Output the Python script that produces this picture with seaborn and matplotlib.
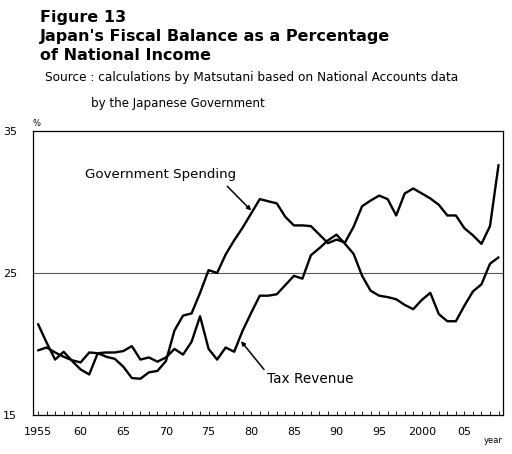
import numpy as np
import pandas as pd
import seaborn as sns
import matplotlib.pyplot as plt
from matplotlib.ticker import MultipleLocator

# values (% of national income)
years = list(range(1955, 2010))
spending = [21.4, 20.1, 18.9, 19.45, 18.8, 18.2, 17.85, 19.35, 19.1, 18.95,
            18.4, 17.6, 17.55, 18.0, 18.1, 18.8, 20.95, 22.0, 22.15, 23.6,
            25.2, 25.0, 26.3, 27.3, 28.2, 29.2, 30.2, 30.05, 29.9, 28.95,
            28.35, 28.35, 28.3, 27.7, 27.1, 27.35, 27.15, 28.25, 29.7, 30.1,
            30.45, 30.2, 29.05, 30.6, 30.95, 30.6, 30.25, 29.8, 29.05, 29.05,
            28.15, 27.65, 27.05, 28.3, 32.6]
tax = [19.55, 19.75, 19.4, 19.1, 18.85, 18.7, 19.4, 19.35, 19.4, 19.4,
       19.5, 19.85, 18.9, 19.05, 18.75, 19.05, 19.65, 19.25, 20.15, 21.95,
       19.65, 18.9, 19.75, 19.45, 20.95, 22.2, 23.4, 23.4, 23.5, 24.15,
       24.8, 24.6, 26.25, 26.75, 27.3, 27.7, 27.05, 26.35, 24.8, 23.75,
       23.4, 23.3, 23.15, 22.75, 22.45, 23.1, 23.6, 22.1, 21.6, 21.6,
       22.7, 23.7, 24.2, 25.65, 26.1]
x_labels = ['1955', '60', '65', '70', '75', '80', '85', '90', '95', '2000', '05']
y_ticks = [15, 25, 35]

df = pd.DataFrame({'year': years * 2,
                   'value': spending + tax,
                   'series': ['Government Spending'] * len(years) + ['Tax Revenue'] * len(years)})

sns.set_style('white')
plt.rcParams['font.family'] = ['DejaVu Sans']
plt.rcParams['text.color'] = 'black'
plt.rcParams['xtick.color'] = 'black'
plt.rcParams['ytick.color'] = 'black'

fig = plt.figure(figsize=(5.12, 4.54), dpi=100)
ax = fig.add_axes([0.0635, 0.086, 0.9185, 0.6255])

sns.lineplot(data=df, x='year', y='value', units='series', estimator=None,
             color='black', lw=1.7, ax=ax, legend=False)

ax.axhline(25, color='#555555', lw=0.8, zorder=0)
ax.set_xlim(1954.35, 2009.5)
ax.set_ylim(15, 35)

ax.set_xticks(list(range(1955, 2006, 5)))
ax.set_xticklabels(x_labels, fontsize=8)
ax.xaxis.set_minor_locator(MultipleLocator(1))
ax.tick_params(axis='x', which='both', direction='in', length=3, width=0.6, pad=9, bottom=True)
ax.set_yticks(y_ticks)
ax.set_yticklabels([str(v) for v in y_ticks], fontsize=8)
ax.tick_params(axis='y', length=0, pad=11)
ax.set_xlabel('')
ax.set_ylabel('')
for sp in ax.spines.values():
    sp.set_color('black')
    sp.set_linewidth(0.9)

ax.text(0.0, 1.012, '%', transform=ax.transAxes, fontsize=6, ha='left', va='bottom')
ax.text(1.0, -0.075, 'year', transform=ax.transAxes, fontsize=6, ha='right', va='top')

# labels and their pointer lines
ax.text(1969.4, 31.95, 'Government Spending', fontsize=9.6, ha='center', va='center')
ax.annotate('', xy=(1980.0, 29.4), xytext=(1977.2, 31.1),
            arrowprops=dict(arrowstyle='-|>', color='black', lw=1.1,
                            mutation_scale=6, shrinkA=0, shrinkB=0))
ax.text(1981.9, 17.5, 'Tax Revenue', fontsize=9.8, ha='left', va='center')
ax.annotate('', xy=(1978.8, 20.2), xytext=(1981.5, 18.2),
            arrowprops=dict(arrowstyle='-|>', color='black', lw=1.1,
                            mutation_scale=6, shrinkA=0, shrinkB=0))

# title block
fig.text(40 / 512, 1 - 21.7 / 454, 'Figure 13', fontsize=11.5, fontweight='bold', va='baseline')
fig.text(40 / 512, 1 - 40.5 / 454, "Japan's Fiscal Balance as a Percentage", fontsize=11.5,
         fontweight='bold', va='baseline')
fig.text(40 / 512, 1 - 60 / 454, 'of National Income', fontsize=11.5, fontweight='bold', va='baseline')
fig.text(45 / 512, 1 - 81 / 454, 'Source : calculations by Matsutani based on National Accounts data',
         fontsize=8.7, va='baseline')
fig.text(91 / 512, 1 - 106.5 / 454, 'by the Japanese Government', fontsize=8.6, va='baseline')

fig.savefig('out.png', dpi=100)
